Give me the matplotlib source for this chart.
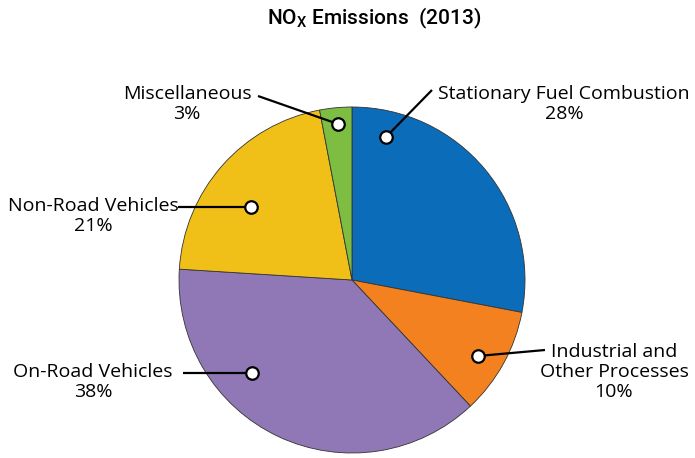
import matplotlib.pyplot as plt

# Data
labels = ["Stationary Fuel Combustion", "Industrial and\nOther Processes",
          "On-Road Vehicles", "Non-Road Vehicles", "Miscellaneous"]
shares = [28, 10, 38, 21, 3]
colors = ["#0b6cba", "#f48120", "#8f78b5", "#f0c018", "#7cbd42"]

W, H = 695, 458
fig = plt.figure(figsize=(W / 100, H / 100), dpi=100)
ax = fig.add_axes([0, 0, 1, 1])
ax.set_xlim(0, W)
ax.set_ylim(0, H)
ax.set_aspect("equal")
ax.axis("off")

cx, cy, r = 352, H - 280, 173
ax.pie(shares, colors=colors, startangle=90, counterclock=False,
       center=(cx, cy), radius=r,
       wedgeprops=dict(edgecolor="#333333", linewidth=0.6))
ax.set_xlim(0, W)
ax.set_ylim(0, H)

# label text position, marker position, line start (pixel coords, y down)
text_pos = [(564, 104), (614, 372), (93, 382), (93, 216), (187, 104)]
marker_pos = [(386, 137), (478, 356), (252, 373), (251, 207), (338, 124)]
line_start = [(432, 90), (545, 350), (183, 373), (178, 207), (258, 96)]

for lab, s, tp, mp, ls in zip(labels, shares, text_pos, marker_pos, line_start):
    ax.plot([ls[0], mp[0]], [H - ls[1], H - mp[1]], color="black", lw=1.6,
            solid_capstyle="butt", zorder=3)
    ax.plot(mp[0], H - mp[1], "o", ms=9, mfc="white", mec="black",
            mew=1.6, zorder=4)
    ax.text(tp[0], H - tp[1], f"{lab}\n{s}%", ha="center", va="center",
            fontsize=14, family="Open Sans", linespacing=1.15)

ax.text(374, H - 18, r"NO$_\mathregular{X}$ Emissions  (2013)", ha="center",
        va="center", fontsize=15, family="Roboto", fontweight="medium")

fig.savefig("out.png", dpi=100)
